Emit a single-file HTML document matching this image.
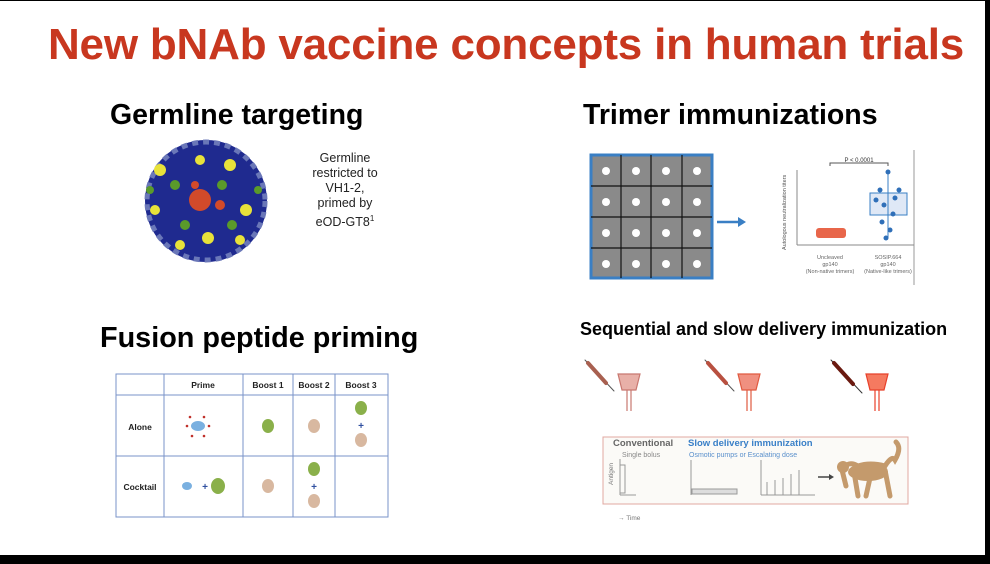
<!DOCTYPE html>
<html><head><meta charset="utf-8"><style>
html,body{margin:0;padding:0;}
body{width:990px;height:564px;position:relative;overflow:hidden;background:#fff;font-family:"Liberation Sans",Arial,sans-serif;}
.a{position:absolute;white-space:nowrap;}
</style></head><body>
<div class="a" style="left:0;top:0;width:990px;height:1px;background:#000"></div>
<div class="a" style="left:985px;top:0;width:5px;height:564px;background:#000"></div>
<div class="a" style="left:0;top:555px;width:990px;height:9px;background:#000"></div>

<div class="a" style="left:6px;top:20px;width:1000px;text-align:center;font-weight:bold;font-size:44px;color:#c8371f;letter-spacing:-0.2px">New bNAb vaccine concepts in human trials</div>
<div class="a" style="left:110px;top:99px;font-weight:bold;font-size:28.5px;color:#000">Germline targeting</div>
<div class="a" style="left:583px;top:99px;font-weight:bold;font-size:28.5px;color:#000">Trimer immunizations</div>
<div class="a" style="left:100px;top:322px;font-weight:bold;font-size:28.8px;color:#000">Fusion peptide priming</div>
<div class="a" style="left:580px;top:319px;font-weight:bold;font-size:18px;color:#000">Sequential and slow delivery immunization</div>
<div class="a" style="left:300px;top:151px;width:90px;text-align:center;font-size:12.5px;line-height:15px;color:#222">Germline<br>restricted to<br>VH1-2,<br>primed by<br>eOD-GT8<sup style="font-size:8px">1</sup></div>

<svg class="a" style="left:0;top:0" width="990" height="564">
<!-- sphere -->
<circle cx="206" cy="201" r="61" fill="#1f2a8f"/>
<circle cx="206" cy="201" r="59" fill="none" stroke="#6a77b8" stroke-width="5" stroke-dasharray="6 5"/>
<g fill="#e8e23a"><circle cx="160" cy="170" r="6"/><circle cx="230" cy="165" r="6"/><circle cx="246" cy="210" r="6"/><circle cx="208" cy="238" r="6"/><circle cx="155" cy="210" r="5"/><circle cx="180" cy="245" r="5"/><circle cx="240" cy="240" r="5"/><circle cx="200" cy="160" r="5"/></g>
<g fill="#5a9a2a"><circle cx="175" cy="185" r="5"/><circle cx="222" cy="185" r="5"/><circle cx="185" cy="225" r="5"/><circle cx="232" cy="225" r="5"/><circle cx="150" cy="190" r="4"/><circle cx="258" cy="190" r="4"/></g>
<circle cx="200" cy="200" r="11" fill="#d24a2a"/><circle cx="220" cy="205" r="5" fill="#d24a2a"/><circle cx="195" cy="185" r="4" fill="#d24a2a"/>

<!-- trimer grid -->
<rect x="591" y="155" width="121" height="123" fill="#8a8a8a" stroke="#3a7fc4" stroke-width="3"/>
<g stroke="#111" stroke-width="1.2"><line x1="621" y1="155" x2="621" y2="278"/><line x1="651" y1="155" x2="651" y2="278"/><line x1="682" y1="155" x2="682" y2="278"/><line x1="591" y1="186" x2="712" y2="186"/><line x1="591" y1="217" x2="712" y2="217"/><line x1="591" y1="248" x2="712" y2="248"/></g>
<g fill="#fff">
<circle cx="606" cy="171" r="4"/><circle cx="636" cy="171" r="4"/><circle cx="666" cy="171" r="4"/><circle cx="697" cy="171" r="4"/>
<circle cx="606" cy="202" r="4"/><circle cx="636" cy="202" r="4"/><circle cx="666" cy="202" r="4"/><circle cx="697" cy="202" r="4"/>
<circle cx="606" cy="233" r="4"/><circle cx="636" cy="233" r="4"/><circle cx="666" cy="233" r="4"/><circle cx="697" cy="233" r="4"/>
<circle cx="606" cy="264" r="4"/><circle cx="636" cy="264" r="4"/><circle cx="666" cy="264" r="4"/><circle cx="697" cy="264" r="4"/></g>
<line x1="717" y1="222" x2="740" y2="222" stroke="#3a7fc4" stroke-width="2.5"/>
<polygon points="738,217 746,222 738,227" fill="#3a7fc4"/>

<!-- chart -->
<line x1="914" y1="150" x2="914" y2="285" stroke="#999" stroke-width="1"/>
<line x1="797" y1="170" x2="797" y2="245" stroke="#888"/>
<line x1="797" y1="245" x2="914" y2="245" stroke="#888"/>
<path d="M830 166 V163 H888 V166" fill="none" stroke="#555"/>
<text x="859" y="162" font-size="6" text-anchor="middle" fill="#333">P &lt; 0.0001</text>
<text x="786" y="250" font-size="5.5" fill="#555" transform="rotate(-90 786 250)">Autologous neutralization titers</text>
<rect x="816" y="228" width="30" height="10" rx="3" fill="#e8664a"/>
<rect x="870" y="193" width="37" height="22" fill="#dfe8f6" stroke="#3a7fc4"/>
<line x1="888" y1="172" x2="888" y2="238" stroke="#3a7fc4"/>
<g fill="#2f6fb8"><circle cx="888" cy="172" r="2.5"/><circle cx="880" cy="190" r="2.5"/><circle cx="895" cy="198" r="2.5"/><circle cx="884" cy="205" r="2.5"/><circle cx="893" cy="214" r="2.5"/><circle cx="882" cy="222" r="2.5"/><circle cx="890" cy="230" r="2.5"/><circle cx="886" cy="238" r="2.5"/><circle cx="876" cy="200" r="2.5"/><circle cx="899" cy="190" r="2.5"/></g>
<g font-size="5.5" fill="#666" text-anchor="middle"><text x="830" y="259">Uncleaved</text><text x="830" y="266">gp140</text><text x="830" y="273">(Non-native trimers)</text><text x="888" y="259">SOSIP.664</text><text x="888" y="266">gp140</text><text x="888" y="273">(Native-like trimers)</text></g>

<!-- table -->
<g stroke="#7a93c8" stroke-width="1" fill="none">
<rect x="116" y="374" width="272" height="143"/>
<line x1="164" y1="374" x2="164" y2="517"/><line x1="243" y1="374" x2="243" y2="517"/><line x1="293" y1="374" x2="293" y2="517"/><line x1="335" y1="374" x2="335" y2="517"/>
<line x1="116" y1="395" x2="388" y2="395"/><line x1="116" y1="456" x2="388" y2="456"/></g>
<g font-size="8.5" font-weight="bold" fill="#222" text-anchor="middle"><text x="203" y="388">Prime</text><text x="268" y="388">Boost 1</text><text x="314" y="388">Boost 2</text><text x="361" y="388">Boost 3</text><text x="140" y="430">Alone</text><text x="140" y="490">Cocktail</text></g>
<g><ellipse cx="198" cy="426" rx="7" ry="5" fill="#7ab0e0"/>
<g fill="#c0302a"><circle cx="190" cy="417" r="1.3"/><circle cx="204" cy="417" r="1.3"/><circle cx="187" cy="426" r="1.3"/><circle cx="209" cy="426" r="1.3"/><circle cx="192" cy="436" r="1.3"/><circle cx="204" cy="436" r="1.3"/></g>
<ellipse cx="268" cy="426" rx="6" ry="7" fill="#8ab04a"/>
<ellipse cx="314" cy="426" rx="6" ry="7" fill="#d8b8a0"/>
<ellipse cx="361" cy="408" rx="6" ry="7" fill="#8ab04a"/><text x="361" y="429" font-size="10" fill="#3050a0" text-anchor="middle" font-weight="bold">+</text><ellipse cx="361" cy="440" rx="6" ry="7" fill="#d8b8a0"/>
<ellipse cx="187" cy="486" rx="5" ry="4" fill="#7ab0e0"/><text x="205" y="490" font-size="10" fill="#3050a0" text-anchor="middle" font-weight="bold">+</text><ellipse cx="218" cy="486" rx="7" ry="8" fill="#8ab04a"/>
<ellipse cx="268" cy="486" rx="6" ry="7" fill="#d8b8a0"/>
<ellipse cx="314" cy="469" rx="6" ry="7" fill="#8ab04a"/><text x="314" y="490" font-size="10" fill="#3050a0" text-anchor="middle" font-weight="bold">+</text><ellipse cx="314" cy="501" rx="6" ry="7" fill="#d8b8a0"/></g>

<!-- syringes + receptors -->
<g stroke-linecap="round">
<line x1="585" y1="360" x2="614" y2="391" stroke="#555" stroke-width="1"/><line x1="588" y1="363" x2="606" y2="383" stroke="#a86050" stroke-width="4"/>
<line x1="705" y1="360" x2="734" y2="391" stroke="#555" stroke-width="1"/><line x1="708" y1="363" x2="726" y2="383" stroke="#b85040" stroke-width="4"/>
<line x1="831" y1="360" x2="862" y2="393" stroke="#333" stroke-width="1"/><line x1="834" y1="363" x2="853" y2="384" stroke="#6a1a10" stroke-width="4"/></g>
<g stroke-width="1.2">
<path d="M618 374 H640 L636 390 H622 Z M627 390 V411 M631 390 V411" fill="#e8b0a8" stroke="#c87870"/>
<path d="M738 374 H760 L756 390 H742 Z M747 390 V411 M751 390 V411" fill="#f09080" stroke="#e05a40"/>
<path d="M866 374 H888 L884 390 H870 Z M875 390 V411 M879 390 V411" fill="#f57a60" stroke="#e8402a"/></g>

<!-- slow delivery box -->
<rect x="603" y="437" width="305" height="67" fill="#fbfaf7" stroke="#e0a8a0"/>
<text x="613" y="446" font-size="9.5" font-weight="bold" fill="#666">Conventional</text>
<text x="688" y="446" font-size="9.5" font-weight="bold" fill="#3a80c8">Slow delivery immunization</text>
<text x="622" y="457" font-size="7" fill="#888">Single bolus</text>
<text x="689" y="457" font-size="7" fill="#5a90cc">Osmotic pumps  or  Escalating dose</text>
<g stroke="#999" fill="none"><line x1="620" y1="459" x2="620" y2="495"/><line x1="620" y1="495" x2="636" y2="495"/><rect x="620" y="465" width="5" height="28"/><line x1="691" y1="460" x2="691" y2="495"/><rect x="692" y="489" width="45" height="5" fill="#ddd"/><line x1="761" y1="460" x2="761" y2="495"/><line x1="761" y1="495" x2="815" y2="495"/>
<line x1="767" y1="482" x2="767" y2="495"/><line x1="775" y1="480" x2="775" y2="495"/><line x1="783" y1="478" x2="783" y2="495"/><line x1="791" y1="474" x2="791" y2="495"/><line x1="799" y1="470" x2="799" y2="495"/></g>
<text x="618" y="520" font-size="6.5" fill="#777">→ Time</text>
<text x="613" y="485" font-size="6.5" fill="#777" transform="rotate(-90 613 485)">Antigen</text>
<line x1="818" y1="477" x2="830" y2="477" stroke="#444" stroke-width="1.5"/><polygon points="829,474 834,477 829,480" fill="#444"/>
<path d="M842 470 Q848 460 858 466 Q870 462 885 466 Q892 455 895 460 Q902 448 896 442 M842 470 L846 486 M854 472 L858 496 M870 478 L866 496 M885 470 L890 496" fill="none" stroke="#c49a6c" stroke-width="5" stroke-linecap="round"/>
<ellipse cx="868" cy="472" rx="20" ry="9" fill="#c49a6c"/><circle cx="843" cy="467" r="6" fill="#c49a6c"/>
</svg>
</body></html>
